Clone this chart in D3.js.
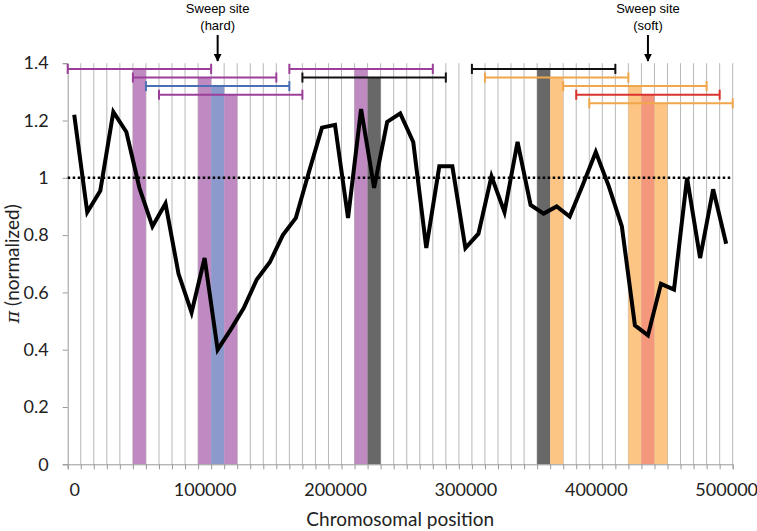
<!DOCTYPE html>
<html>
<head>
<meta charset="utf-8">
<script src="https://cdn.jsdelivr.net/npm/d3@7"></script>
<style>
  body { margin: 0; background: #fff; }
  .tick text { font-family: Lato, "Open Sans", sans-serif; fill: #222; }
</style>
</head>
<body>
<div class="chart"></div>
<script>
// chromosomal positions (categories)
var positions = [0,10000,20000,30000,40000,50000,60000,70000,80000,90000,
                 100000,110000,120000,130000,140000,150000,160000,170000,180000,190000,
                 200000,210000,220000,230000,240000,250000,260000,270000,280000,290000,
                 300000,310000,320000,330000,340000,350000,360000,370000,380000,390000,
                 400000,410000,420000,430000,440000,450000,460000,470000,480000,490000,500000];
// normalized pi per window
var piValues = [1.22,0.88,0.955,1.23,1.16,0.965,0.83,0.91,0.665,0.53,
                0.72,0.40,0.47,0.545,0.645,0.705,0.80,0.86,1.02,1.175,
                1.185,0.86,1.24,0.965,1.195,1.225,1.125,0.755,1.04,1.04,
                0.755,0.805,1.005,0.88,1.125,0.905,0.875,0.90,0.865,0.975,
                1.09,0.97,0.83,0.485,0.45,0.63,0.61,1.0,0.72,0.96,0.77];

// detected sweep windows: centre, bracket level, colours
var winCentres = [50000,100000,110000,120000,220000,230000,360000,370000,430000,440000,450000];
var winLevels  = [1.38,1.35,1.32,1.29,1.38,1.35,1.38,1.35,1.32,1.29,1.26];
var winFill    = ["#bf8ac1","#bf8ac1","#8c99cc","#bf8ac1","#bf8ac1","#686868",
                  "#686868","#fdc584","#fdc584","#f4977a","#fdc584"];
var winLine    = ["#9c3f9a","#9c3f9a","#4b6fb4","#9c3f9a","#9c3f9a","#111111",
                  "#111111","#f0a64a","#f0a64a","#d9332c","#f0a64a"];
var winHalf = 55000;

var sweepPos = [110000, 440000];
var sweepLabels = [["Sweep site","(hard)"],["Sweep site","(soft)"]];

var yTicks = [0,0.2,0.4,0.6,0.8,1,1.2,1.4];
var xTicks = [0,100000,200000,300000,400000,500000];

var width = 757, height = 531;
var plotLeft = 67.7, plotRight = 732.7, plotTop = 63.2, plotBottom = 464.3;

var svg = d3.select("body div.chart").append("svg")
            .attr("width", width).attr("height", height);

var x = d3.scaleLinear()
            .domain([-5000, 505000])
            .range([plotLeft, plotRight]);

var y = d3.scaleLinear()
            .domain([0, 1.4])
            .range([plotBottom, plotTop]);

// vertical gridlines at category boundaries
var bounds = positions.map(function(d) {return d + 5000;});
svg.append("g").selectAll("line")
    .data(bounds)
    .enter().append("line")
        .attr("x1", function(d) {return x(d);})
        .attr("x2", function(d) {return x(d);})
        .attr("y1", y(1.4))
        .attr("y2", y(0))
        .attr("stroke", "#b8b8b8")
        .attr("stroke-width", 1);

// shaded sweep columns
svg.append("g").selectAll("rect")
    .data(winCentres)
    .enter().append("rect")
        .attr("x", function(d) {return x(d - 5000);})
        .attr("width", function(d) {return x(d + 5000) - x(d - 5000);})
        .attr("y", function(d, i) {return y(winLevels[i]);})
        .attr("height", function(d, i) {return y(0) - y(winLevels[i]);})
        .attr("fill", function(d, i) {return winFill[i];});

// axes
var yAxis = svg.append("g")
    .attr("transform", "translate(" + plotLeft + ",0)")
    .call(d3.axisLeft(y).tickValues(yTicks).tickSize(5).tickPadding(14)
            .tickFormat(function(d) {return +d.toFixed(1);}));
yAxis.select(".domain").attr("stroke", "#999");
yAxis.selectAll(".tick line").attr("stroke", "#999");
yAxis.selectAll("text").style("font-size", "18px");

var xMinor = svg.append("g")
    .attr("transform", "translate(0," + plotBottom + ")")
    .call(d3.axisBottom(x).tickValues([-5000].concat(bounds)).tickSize(5).tickFormat(""));
xMinor.select(".domain").attr("stroke", "#999");
xMinor.selectAll(".tick line").attr("stroke", "#999");

var xLabels = svg.append("g")
    .attr("transform", "translate(0," + plotBottom + ")")
    .call(d3.axisBottom(x).tickValues(xTicks).tickSize(0).tickPadding(19)
            .tickFormat(d3.format("d")));
xLabels.select(".domain").remove();
xLabels.selectAll("text").style("font-size", "18px");

// reference line at 1
svg.append("line")
    .attr("x1", x(-5000)).attr("x2", x(505000))
    .attr("y1", y(1)).attr("y2", y(1))
    .attr("stroke", "#000")
    .attr("stroke-width", 2.5)
    .attr("stroke-dasharray", "2.5,2.5");

// pi line
var line = d3.line()
    .x(function(d, i) {return x(positions[i]);})
    .y(function(d) {return y(d);});

svg.append("path")
    .attr("d", line(piValues))
    .attr("fill", "none")
    .attr("stroke", "#000")
    .attr("stroke-width", 4)
    .attr("stroke-linejoin", "miter");

// window brackets
var brackets = svg.append("g").selectAll("g")
    .data(winCentres)
    .enter().append("g")
        .attr("stroke", function(d, i) {return winLine[i];})
        .attr("stroke-width", 2);

brackets.append("line")
    .attr("x1", function(d) {return x(d - winHalf);})
    .attr("x2", function(d) {return x(d + winHalf);})
    .attr("y1", function(d, i) {return y(winLevels[i]);})
    .attr("y2", function(d, i) {return y(winLevels[i]);});

[-1, 1].forEach(function(s) {
    brackets.append("line")
        .attr("x1", function(d) {return x(d + s * winHalf);})
        .attr("x2", function(d) {return x(d + s * winHalf);})
        .attr("y1", function(d, i) {return y(winLevels[i]) - 5;})
        .attr("y2", function(d, i) {return y(winLevels[i]) + 5;});
});

// sweep site annotations
var defs = svg.append("defs");
defs.append("marker")
    .attr("id", "arrow")
    .attr("viewBox", "0 0 10 10")
    .attr("refX", 9).attr("refY", 5)
    .attr("markerWidth", 4).attr("markerHeight", 4)
    .attr("orient", "auto")
  .append("path")
    .attr("d", "M0,0 L10,5 L0,10 z")
    .attr("fill", "#000");

var notes = svg.append("g").selectAll("g")
    .data(sweepPos)
    .enter().append("g");

notes.append("text")
    .attr("x", function(d) {return x(d);})
    .attr("y", 13)
    .attr("text-anchor", "middle")
    .style("font-family", "'Liberation Sans', Arial, sans-serif")
    .style("font-size", "13px")
    .text(function(d, i) {return sweepLabels[i][0];});

notes.append("text")
    .attr("x", function(d) {return x(d);})
    .attr("y", 30)
    .attr("text-anchor", "middle")
    .style("font-family", "'Liberation Sans', Arial, sans-serif")
    .style("font-size", "13px")
    .text(function(d, i) {return sweepLabels[i][1];});

notes.append("line")
    .attr("x1", function(d) {return x(d);})
    .attr("x2", function(d) {return x(d);})
    .attr("y1", 35)
    .attr("y2", 61)
    .attr("stroke", "#000")
    .attr("stroke-width", 2)
    .attr("marker-end", "url(#arrow)");

// axis titles
svg.append("text")
    .attr("x", (plotLeft + plotRight) / 2)
    .attr("y", 526)
    .attr("text-anchor", "middle")
    .style("font-family", "Lato, 'Open Sans', sans-serif")
    .style("font-size", "19px")
    .style("fill", "#222")
    .text("Chromosomal position");

var yTitle = svg.append("text")
    .attr("transform", "translate(19," + (plotTop + plotBottom) / 2 + ") rotate(-90)")
    .attr("text-anchor", "middle")
    .style("font-family", "Lato, 'Open Sans', sans-serif")
    .style("font-size", "19px")
    .style("fill", "#222");
yTitle.append("tspan").style("font-style", "italic")
    .style("font-family", "'DejaVu Serif', serif").text("π");
yTitle.append("tspan").text(" (normalized)");
</script>
</body>
</html>
